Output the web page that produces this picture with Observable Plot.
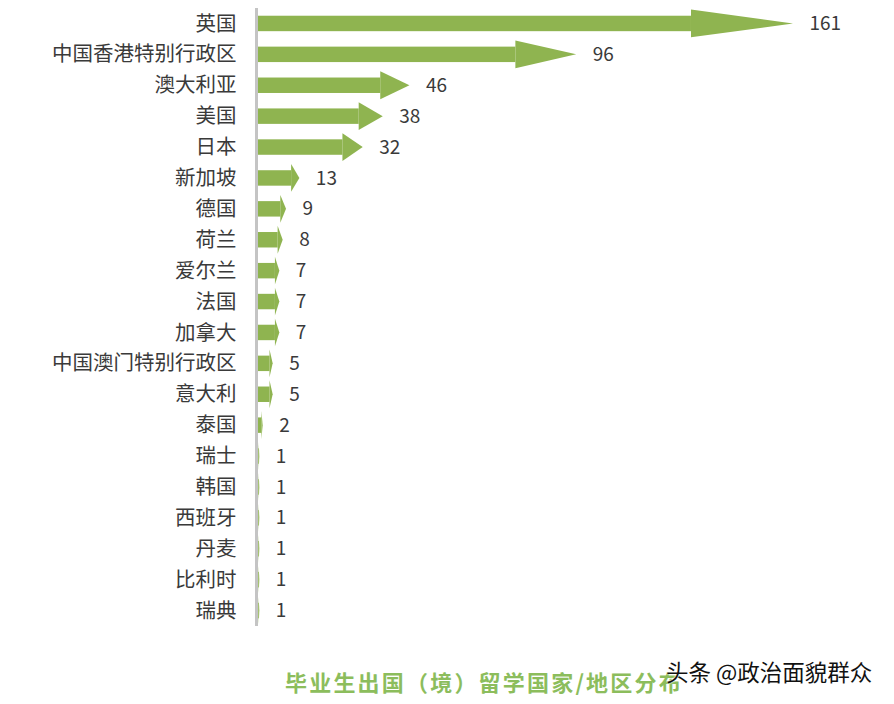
<!DOCTYPE html>
<html><head><meta charset="utf-8">
<script src="https://cdn.jsdelivr.net/npm/d3@7"></script>
<script src="https://cdn.jsdelivr.net/npm/@observablehq/plot@0.6"></script>
<style>
body{margin:0;background:#fff;font-family:"Noto Sans CJK SC","Noto Sans",sans-serif;}
#wrap{position:relative;width:894px;height:704px;overflow:hidden;}
#title{position:absolute;left:285px;top:666px;font-size:22px;font-weight:bold;color:#8cbd5c;letter-spacing:2.2px;line-height:30px;white-space:nowrap;}
#wm{position:absolute;left:666px;top:656px;font-size:22.5px;color:#111;line-height:30px;white-space:nowrap;text-shadow:0 0 2px #fff,0 0 2px #fff;}
</style></head><body>
<div id="wrap"><div id="chart"></div>
<div id="title">毕业生出国（境）留学国家/地区分布</div>
<div id="wm">头条 @政治面貌群众</div>
</div>
<script>
const countries = ["英国","中国香港特别行政区","澳大利亚","美国","日本","新加坡","德国","荷兰","爱尔兰","法国","加拿大","中国澳门特别行政区","意大利","泰国","瑞士","韩国","西班牙","丹麦","比利时","瑞典"];
const values = [161,96,46,38,32,13,9,8,7,7,7,5,5,2,1,1,1,1,1,1];

const green = "#8fb450";
const headFrac = 0.19;
const rows = countries.map((name, i) => ({i, name, value: values[i], base: values[i] * (1 - headFrac)}));
const headPts = rows.flatMap(d => [
  {name: d.name, y: d.i - 0.45, x1: d.base, x2: d.base},
  {name: d.name, y: d.i, x1: d.base, x2: d.value},
  {name: d.name, y: d.i + 0.45, x1: d.base, x2: d.base}
]);

const chart = Plot.plot({
  width: 894,
  height: 640,
  marginLeft: 256,
  marginRight: 101,
  marginTop: 8,
  marginBottom: 14,
  style: {fontFamily: "'Noto Sans CJK SC', sans-serif", color: "#3a3a3a", background: "#fff"},
  x: {domain: [0, 161], axis: null},
  y: {domain: [19.5, -0.5], axis: null},
  marks: [
    Plot.rectX(rows, {x1: 0, x2: "base", y1: d => d.i - 0.25, y2: d => d.i + 0.25, fill: green}),
    Plot.areaX(headPts, {y: "y", x1: "x1", x2: "x2", z: "name", fill: green, curve: "linear"}),
    Plot.ruleX([0], {stroke: "#c4c4c4", strokeWidth: 3}),
    Plot.axisY(d3.range(countries.length), {tickFormat: i => countries[i], tickSize: 0, tickPadding: 20, fontSize: 20.5, fill: "#3a3a3a"}),
    Plot.text(rows, {x: "value", y: "i", text: d => String(d.value), dx: 16, textAnchor: "start", fontSize: 19, fill: "#3a3a3a"})
  ]
});
document.getElementById("chart").appendChild(chart);
</script>
</body></html>
